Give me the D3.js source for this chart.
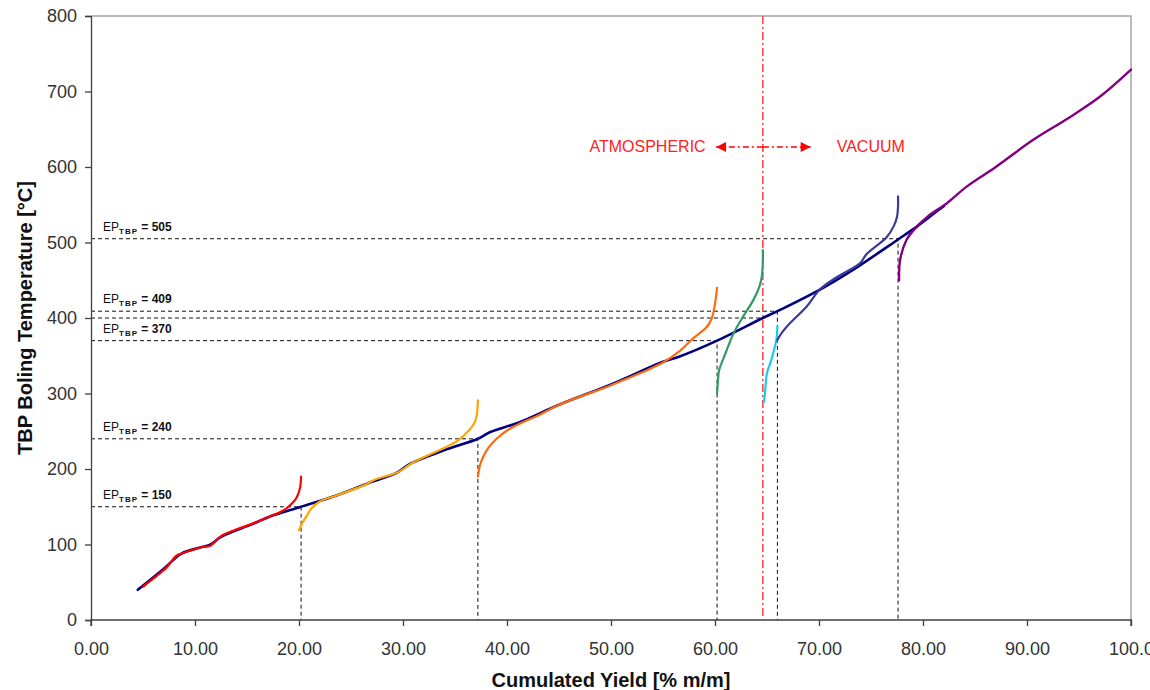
<!DOCTYPE html>
<html>
<head>
<meta charset="utf-8">
<script src="https://cdn.jsdelivr.net/npm/d3@7"></script>
<style>
  body { margin: 0; background: #fff; overflow: hidden; }
  svg { font-family: Arial, "Liberation Sans", sans-serif; }
</style>
</head>
<body>
<div id="chart"></div>
<script>
// TBP curves: [cumulated yield %, temperature °C]
const tbpCrude = [[4.5,40],[7,68],[8.7,88],[10.5,96],[11.5,100],[12.5,110],[15.5,127],[17.2,137],[20.2,150],[23.6,165],[27,183],[29.4,195],[30.7,207],[34,225],[37.2,240],[38.4,249],[41.2,262],[45,285],[50,312],[55,342],[56.6,349],[60.2,370],[64.6,400],[66,409],[70.4,440],[73.3,464],[77.6,504],[79.4,521],[81.3,541],[82,548]]
const cutNaphthaLt = [[5,44],[6,55],[7.3,70],[8.2,85],[8.7,88],[9.8,93],[10.8,97],[11.4,98],[12.6,112],[14,120],[15.6,128],[17.2,137],[18.2,143],[18.8,148],[19.5,157],[19.8,163],[20.1,175],[20.2,190]]
const cutNaphthaHv = [[20,119],[20.3,128],[20.7,137],[21.2,148],[22,157],[23.6,165],[26,177],[27.5,187],[29.4,195],[31,209],[33,222],[35.2,237],[36.4,252],[36.9,262],[37.1,272],[37.2,291]]
const cutGasoil = [[37.2,190],[37.4,205],[37.7,216],[38.2,228],[39,240],[40,251],[41.2,260],[43,271],[45,285],[50,311],[53,328],[55,341],[56.6,356],[57.9,373],[59.2,388],[59.7,400],[60,419],[60.2,440]]
const cutAtmResid = [[60.2,300],[60.3,320],[60.4,331],[61,353],[61.8,380],[62.7,402],[63.7,424],[64.3,443],[64.5,455],[64.6,475],[64.6,490]]
const cutVacLt = [[64.7,289],[64.8,300],[65,327],[65.4,344],[65.9,371],[66,389]]
const cutVacGasoil = [[66,371],[66.4,380],[67.2,393],[68.8,415],[70.1,438],[71.7,454],[73.9,472],[74.6,485],[76.5,507],[77.2,522],[77.5,534],[77.6,548],[77.6,561]]
const cutVacResid = [[77.7,450],[77.8,477],[78.4,503],[79.4,521],[80.5,535],[82.3,552],[84.2,574],[87,600],[90.6,636],[94,665],[97,693],[100,729]]

// end points: [yield where crude curve meets it, EP temperature, label]
const endPoints = [[20.2,150,"150"],[37.2,240,"240"],[60.2,370,"370"],[66,409,"409"],[77.6,505,"505"]]
const cutPoint = [64.6, 400]

const xTicks = d3.range(0, 101, 10)
const yTicks = d3.range(0, 801, 100)

const width = 1150, height = 690
const margin = {top: 16, right: 19, bottom: 70, left: 91}

const svg = d3.select("#chart").append("svg")
  .attr("width", width)
  .attr("height", height)

const x = d3.scaleLinear().domain([0, 100]).range([margin.left, width - margin.right])
const y = d3.scaleLinear().domain([0, 800]).range([height - margin.bottom, margin.top])

// frame
svg.append("path")
  .attr("d", `M${x(0)},${y(800)}H${x(100)}V${y(0)}`)
  .attr("fill", "none")
  .attr("stroke", "#a6a6a6")
  .attr("stroke-width", 1.5)

// dashed guide lines
const guides = svg.append("g")
  .attr("stroke", "#111")
  .attr("stroke-width", 1)
  .attr("stroke-dasharray", "4,3")
  .attr("fill", "none")

endPoints.forEach(([xv, yv]) => {
  guides.append("path").attr("d", `M${x(0)},${y(yv)}H${x(xv)}V${y(0)}`)
})
guides.append("path").attr("d", `M${x(0)},${y(cutPoint[1])}H${x(cutPoint[0])}`)

// axes
const xAxis = svg.append("g")
  .attr("transform", `translate(0,${y(0)})`)
  .call(d3.axisBottom(x).tickValues(xTicks).tickSize(6).tickFormat(d => d === 100 ? "100.0" : d3.format(".2f")(d)))
const yAxis = svg.append("g")
  .attr("transform", `translate(${x(0)},0)`)
  .call(d3.axisLeft(y).tickValues(yTicks).tickSize(6).tickFormat(d3.format("d")))

xAxis.selectAll("path, line").attr("stroke", "#404040").attr("stroke-width", 1.3)
yAxis.selectAll("path, line").attr("stroke", "#404040").attr("stroke-width", 1.3)
xAxis.selectAll("text")
  .attr("font-size", 18)
  .attr("fill", "#333")
  .attr("y", 35)
  .attr("dy", 0)
  .attr("font-family", "Arial, 'Liberation Sans', sans-serif")
yAxis.selectAll("text")
  .attr("font-size", 18)
  .attr("fill", "#333")
  .attr("x", -14)
  .attr("font-family", "Arial, 'Liberation Sans', sans-serif")
xAxis.select(".domain").attr("d", `M${x(0)},6V0H${x(100)}V6`)

// axis titles
svg.append("text")
  .attr("x", x(50))
  .attr("y", 687)
  .attr("text-anchor", "middle")
  .attr("font-size", 20)
  .attr("font-weight", "bold")
  .attr("fill", "#111")
  .text("Cumulated Yield [% m/m]")

svg.append("text")
  .attr("transform", `translate(32,${y(400)}) rotate(-90)`)
  .attr("text-anchor", "middle")
  .attr("font-size", 20)
  .attr("font-weight", "bold")
  .attr("fill", "#111")
  .text("TBP Boling Temperature [°C]")

// EP labels
endPoints.forEach(([, yv, lbl]) => {
  const t = svg.append("text")
    .attr("x", x(0) + 12)
    .attr("y", y(yv) - 8)
    .attr("font-size", 12)
    .attr("fill", "#111")
  t.append("tspan").text("EP")
  t.append("tspan").attr("font-size", 8).attr("font-weight", "bold").attr("dy", 3).attr("letter-spacing", 1).text("TBP")
  t.append("tspan").attr("font-weight", "bold").attr("dy", -3).text(" = " + lbl)
})

// atmospheric / vacuum cut line
svg.append("line")
  .attr("x1", x(cutPoint[0])).attr("x2", x(cutPoint[0]))
  .attr("y1", y(800)).attr("y2", y(0))
  .attr("stroke", "#ff3b3b")
  .attr("stroke-width", 1.5)
  .attr("stroke-dasharray", "8,3,2,3")

svg.append("defs").selectAll("marker")
  .data(["left", "right"])
  .join("marker")
    .attr("id", d => "arr-" + d)
    .attr("viewBox", "0 -5 10 10")
    .attr("refX", 10)
    .attr("markerUnits", "userSpaceOnUse")
    .attr("markerWidth", 12)
    .attr("markerHeight", 10)
    .attr("orient", "auto")
  .append("path")
    .attr("d", "M0,-5L10,0L0,5Z")
    .attr("fill", "#ff0000")

const arrowY = 147
svg.append("line")
  .attr("x1", x(cutPoint[0])).attr("x2", x(60.1))
  .attr("y1", arrowY).attr("y2", arrowY)
  .attr("stroke", "#ff0000").attr("stroke-width", 1.3)
  .attr("stroke-dasharray", "6,3,2,3")
  .attr("marker-end", "url(#arr-left)")
svg.append("line")
  .attr("x1", x(cutPoint[0])).attr("x2", x(69.2))
  .attr("y1", arrowY).attr("y2", arrowY)
  .attr("stroke", "#ff0000").attr("stroke-width", 1.3)
  .attr("stroke-dasharray", "6,3,2,3")
  .attr("marker-end", "url(#arr-right)")

svg.append("text")
  .attr("x", x(59.1)).attr("y", arrowY + 5)
  .attr("text-anchor", "end")
  .attr("font-size", 16)
  .attr("fill", "#ff2020")
  .text("ATMOSPHERIC")
svg.append("text")
  .attr("x", x(71.7)).attr("y", arrowY + 5)
  .attr("font-size", 16)
  .attr("fill", "#ff2020")
  .text("VACUUM")

// curves
const line = d3.line()
  .x(d => x(d[0]))
  .y(d => y(d[1]))
  .curve(d3.curveCatmullRom.alpha(0.5))

const series = [
  {data: tbpCrude, color: "#000080", w: 2.6},
  {data: cutNaphthaLt, color: "#ff0000", w: 2.2},
  {data: cutNaphthaHv, color: "#ffa500", w: 2.2},
  {data: cutGasoil, color: "#ff6a10", w: 2.2},
  {data: cutAtmResid, color: "#339966", w: 2.2},
  {data: cutVacLt, color: "#1ec8f5", w: 2.2},
  {data: cutVacGasoil, color: "#3a3a9c", w: 2.2},
  {data: cutVacResid, color: "#800080", w: 2.4}
]

svg.append("g")
  .attr("fill", "none")
  .attr("stroke-linejoin", "round")
  .attr("stroke-linecap", "round")
  .selectAll("path")
  .data(series)
  .join("path")
    .attr("stroke", d => d.color)
    .attr("stroke-width", d => d.w)
    .attr("d", d => line(d.data))
</script>
</body>
</html>
